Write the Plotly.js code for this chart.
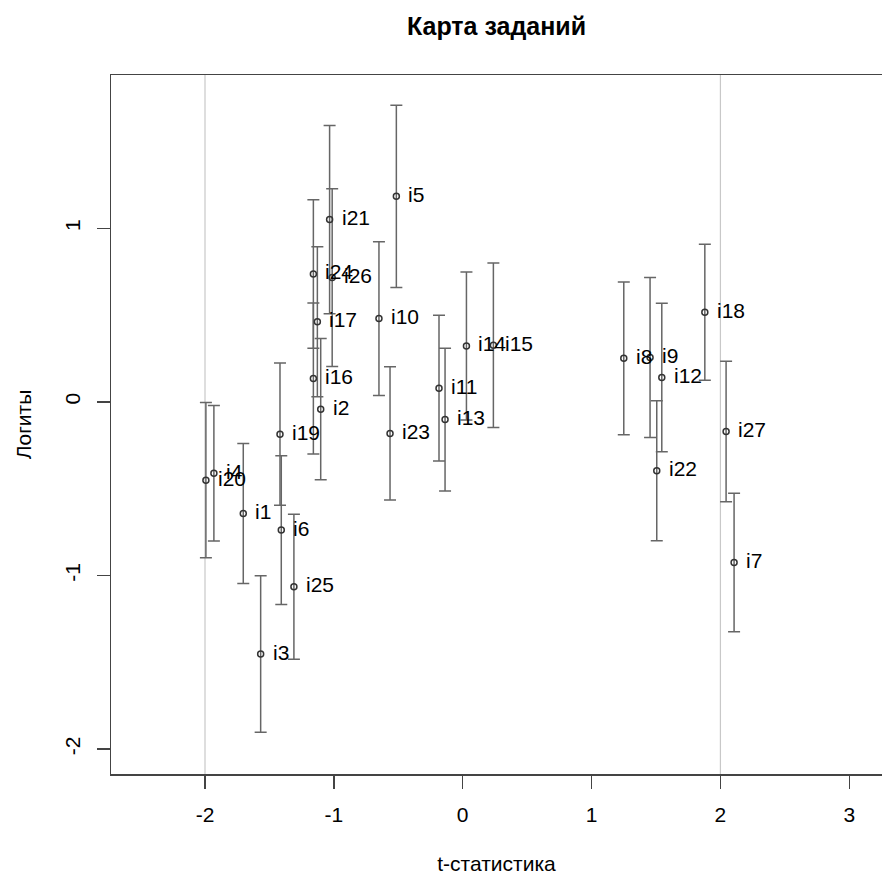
<!DOCTYPE html>
<html>
<head>
<meta charset="utf-8">
<script src="https://cdn.plot.ly/plotly-3.0.1.min.js"></script>
<style>
  html, body { margin: 0; padding: 0; background: #fff; }
  #chart { width: 882px; height: 884px; }
</style>
</head>
<body>
<div id="chart"></div>
<script>
// Item map: infit t-statistic vs. item difficulty (logits) with standard errors
const items  = ["i1","i2","i3","i4","i5","i6","i7","i8","i9","i10","i11","i12","i13","i14",
                "i15","i16","i17","i18","i19","i20","i21","i22","i23","i24","i25","i26","i27"];
const tStat  = [-1.703,-1.102,-1.568,-1.931,-0.515,-1.408, 2.106, 1.250, 1.454,-0.650,-0.184, 1.545,-0.137, 0.029,
                 0.238,-1.159,-1.128, 1.879,-1.418,-1.993,-1.033, 1.506,-0.564,-1.159,-1.310,-1.013, 2.044];
const logits = [-0.643,-0.042,-1.453,-0.411, 1.184,-0.739,-0.925, 0.251, 0.255, 0.480, 0.079, 0.140,-0.102, 0.322,
                 0.326, 0.134, 0.462, 0.516,-0.186,-0.451, 1.050,-0.397,-0.182, 0.737,-1.065, 0.716,-0.171];
const stdErr = [ 0.403, 0.407, 0.451, 0.390, 0.525, 0.428, 0.399, 0.440, 0.461, 0.443, 0.420, 0.428, 0.411, 0.426,
                 0.474, 0.435, 0.432, 0.392, 0.410, 0.447, 0.542, 0.403, 0.384, 0.428, 0.418, 0.512, 0.405];
// Critical t values marked with reference lines
const tCritical = [-2, 2];

const xTicks = [-2, -1, 0, 1, 2, 3];
const yTicks = [-2, -1, 0, 1];

const FONT = "Liberation Sans, Arial, Helvetica, sans-serif";

const trace = {
  type: "scatter",
  mode: "markers",
  x: tStat,
  y: logits,
  marker: { symbol: "circle-open", size: 6, color: "#333", line: { width: 1.5, color: "#333" } },
  error_y: { type: "data", array: stdErr, visible: true, color: "#666", thickness: 1.5, width: 6 },
  hoverinfo: "x+y+text",
  text: items,
  showlegend: false
};

// Item names written to the right of each point
const annotations = items.map((name, i) => ({
  x: tStat[i], y: logits[i], xref: "x", yref: "y",
  text: name, showarrow: false, xanchor: "left", yanchor: "middle",
  xshift: 10, yshift: 2, font: { family: FONT, size: 21, color: "#000" }
}));

const shapes = tCritical.map(v => ({
  type: "line", xref: "x", yref: "paper", x0: v, x1: v, y0: 0, y1: 1,
  line: { color: "#c8c8c8", width: 1.2 }, layer: "below"
}));

const layout = {
  width: 882, height: 884,
  margin: { l: 111, r: 0, t: 75, b: 110 },
  paper_bgcolor: "#fff", plot_bgcolor: "#fff",
  font: { family: FONT, size: 21, color: "#000" },
  title: {
    text: "<b>Карта заданий</b>",
    font: { family: FONT, size: 25, color: "#000" },
    xref: "paper", x: 0.5, xanchor: "center",
    yref: "container", y: 0.970, yanchor: "middle"
  },
  xaxis: {
    range: [-2.7295, 3.254],
    tickvals: xTicks, ticktext: xTicks.map(String),
    ticks: "outside", ticklen: 13, tickwidth: 1.5, tickcolor: "#444",
    ticklabelstandoff: 8,
    showline: true, mirror: true, linecolor: "#444", linewidth: 1.5,
    showgrid: false, zeroline: false,
    tickfont: { family: FONT, size: 21, color: "#000" },
    title: { text: "t-статистика", standoff: 31, font: { family: FONT, size: 21, color: "#000" } }
  },
  yaxis: {
    range: [-2.144, 1.883],
    tickvals: yTicks, ticktext: yTicks.map(String),
    tickangle: -90,
    ticks: "outside", ticklen: 13, tickwidth: 1.5, tickcolor: "#444",
    ticklabelstandoff: 8,
    showline: true, mirror: false, linecolor: "#444", linewidth: 1.5,
    showgrid: false, zeroline: false,
    tickfont: { family: FONT, size: 21, color: "#000" },
    title: { text: "Логиты", standoff: 23, font: { family: FONT, size: 21, color: "#000" } }
  },
  shapes: shapes,
  annotations: annotations
};

Plotly.newPlot("chart", [trace], layout, { staticPlot: true, displayModeBar: false });
</script>
</body>
</html>
